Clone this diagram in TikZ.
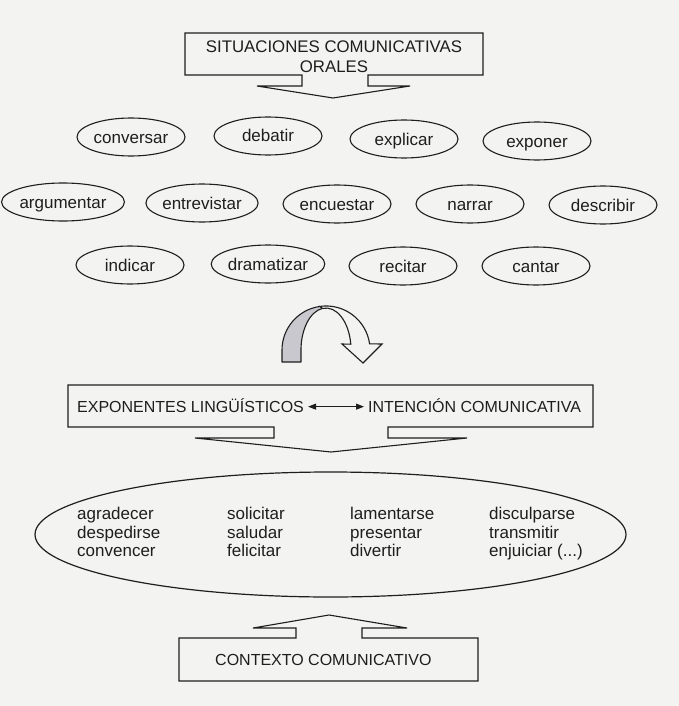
\documentclass[tikz,border=0pt]{standalone}
\usepackage{fontspec}
\setmainfont{Liberation Sans}
\usetikzlibrary{shapes.geometric,arrows.meta}
\definecolor{ink}{RGB}{30,30,30}
\definecolor{paper}{RGB}{243,243,241}
\definecolor{band}{RGB}{200,200,206}
\tikzset{
  outline/.style={draw=ink, line width=1.1pt, line join=miter},
  oval/.style={draw=ink, line width=1.1pt, ellipse, minimum width=108pt, minimum height=38pt,
    inner sep=0pt, text height=12pt, text depth=0pt, text=ink, font=\fontsize{17}{20}\selectfont},
  caps/.style={inner sep=0pt, text=ink, font=\fontsize{16}{20}\selectfont},
  verb/.style={inner sep=0pt, anchor=base west, text=ink, font=\fontsize{17}{20}\selectfont, align=left}
}
\begin{document}
\begin{tikzpicture}[x=1pt, y=-1pt]
\fill[paper] (0,0) rectangle (679,706);
\useasboundingbox (0,0) rectangle (679,706);

% top box with arrow
\draw[outline] (185,33) -- (483,33) -- (483,75) -- (368,75) -- (368,86) -- (410,86) -- (333,98)
  -- (257,86) -- (302,86) -- (302,75) -- (185,75) -- cycle;
\node[caps, align=center, font=\fontsize{16.8}{20}\selectfont] (sit) at (334,56.5) {SITUACIONES COMUNICATIVAS\\ORALES};

% row 1
\node[oval] (conversar) at (131,137) {conversar};
\node[oval] (debatir) at (268,136) {debatir};
\node[oval] (explicar) at (404,139) {explicar};
\node[oval] (exponer) at (537,141) {exponer};
% row 2
\node[oval] (argumentar) at (63,202) {argumentar};
\node[oval] (entrevistar) at (202,203) {entrevistar};
\node[oval] (encuestar) at (337,204) {encuestar};
\node[oval] (narrar) at (470,204) {narrar};
\node[oval] (describir) at (603,205) {describir};
% row 3
\node[oval] (indicar) at (130,265) {indicar};
\node[oval] (dramatizar) at (268,264) {dramatizar};
\node[oval] (recitar) at (403,266) {recitar};
\node[oval] (cantar) at (536,266) {cantar};

% curved ribbon arrow
\filldraw[fill=band, draw=ink, line width=1.1pt, line join=round]
  (282,362) -- (282,350) arc[start angle=180, end angle=262, x radius=44, y radius=44]
  -- (322.5,308.4) arc[start angle=262, end angle=180, x radius=25, y radius=42]
  -- (301,362) -- cycle;
\filldraw[fill=paper, draw=ink, line width=1.1pt, line join=miter]
  (319.9,306.4) arc[start angle=262, end angle=352, x radius=44, y radius=44]
  -- (382,344) -- (363,363) -- (342,344) -- (350.8,344.2)
  arc[start angle=352, end angle=262, x radius=25, y radius=42] -- cycle;

% middle box with arrow
\draw[outline] (68,385) -- (593,385) -- (593,427) -- (388,427) -- (388,438) -- (467,438) -- (331,452)
  -- (195,438) -- (274,438) -- (274,427) -- (68,427) -- cycle;
\node[caps, anchor=base west] (exp) at (77,412.5) {EXPONENTES LINGÜÍSTICOS};
\node[caps, anchor=base west] (int) at (368,412.5) {INTENCIÓN COMUNICATIVA};
\draw[draw=ink, line width=1pt, {Triangle[length=8pt,width=6pt]}-{Triangle[length=8pt,width=6pt]}]
  ([xshift=4pt,yshift=-1pt]exp.east) -- ([xshift=-4pt,yshift=-1pt]int.west);

% big ellipse
\node[draw=ink, line width=1.2pt, ellipse, minimum width=591pt, minimum height=125pt, inner sep=0pt] (big) at (330.5,534.5) {};
\node[verb] (c1) at (77,556.5) {agradecer\\[-1.5pt]despedirse\\[-1.5pt]convencer};
\node[verb] (c2) at (227,556.5) {solicitar\\[-1.5pt]saludar\\[-1.5pt]felicitar};
\node[verb] (c3) at (350,556.5) {lamentarse\\[-1.5pt]presentar\\[-1.5pt]divertir};
\node[verb] (c4) at (489,556.5) {disculparse\\[-1.5pt]transmitir\\[-1.5pt]enjuiciar (...)};

% context box with arrow
\draw[outline] (179,681) -- (478,681) -- (478,638) -- (362,638) -- (362,628) -- (407,628) -- (329,615)
  -- (253,628) -- (296,628) -- (296,638) -- (179,638) -- cycle;
\node[caps, anchor=base west] (ctx) at (215,665) {CONTEXTO COMUNICATIVO};
\end{tikzpicture}
\end{document}
